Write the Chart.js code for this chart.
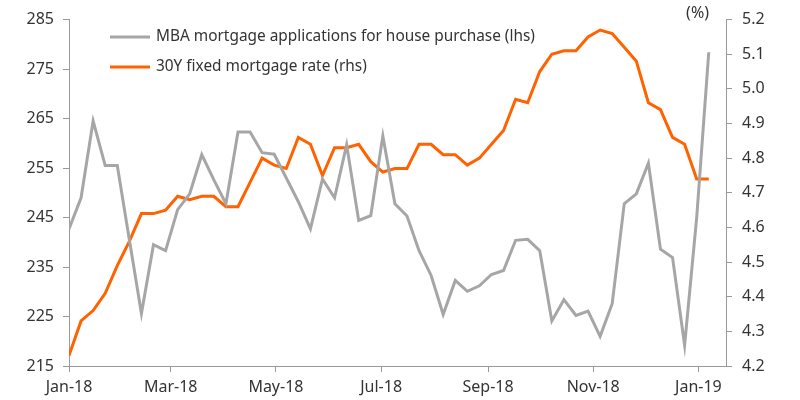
<!DOCTYPE html>
<html>
<head>
<meta charset="utf-8">
<script src="https://cdn.jsdelivr.net/npm/chart.js@4.4.1/dist/chart.umd.min.js"></script>
<style>
  html, body { margin: 0; padding: 0; background: #fff; }
  #wrap { width: 800px; height: 400px; position: relative; }
</style>
</head>
<body>
<div id="wrap"><canvas id="c"></canvas></div>
<script>
// ---- Data ----
const weekDates = [
  '2018-01-01','2018-01-08','2018-01-15','2018-01-22','2018-01-29',
  '2018-02-05','2018-02-12','2018-02-19','2018-02-26',
  '2018-03-05','2018-03-12','2018-03-19','2018-03-26',
  '2018-04-02','2018-04-09','2018-04-16','2018-04-23','2018-04-30',
  '2018-05-07','2018-05-14','2018-05-21','2018-05-28',
  '2018-06-04','2018-06-11','2018-06-18','2018-06-25',
  '2018-07-02','2018-07-09','2018-07-16','2018-07-23','2018-07-30',
  '2018-08-06','2018-08-13','2018-08-20','2018-08-27',
  '2018-09-03','2018-09-10','2018-09-17','2018-09-24',
  '2018-10-01','2018-10-08','2018-10-15','2018-10-22','2018-10-29',
  '2018-11-05','2018-11-12','2018-11-19','2018-11-26',
  '2018-12-03','2018-12-10','2018-12-17','2018-12-24','2018-12-31',
  '2019-01-07'
];
const mbaPurchase = [
  242.7,249.0,264.5,255.5,255.5,240.5,225.6,239.5,238.3,246.6,
  249.8,257.7,252.6,247.8,262.3,262.3,258.1,257.8,253.0,248.2,
  242.7,252.8,249.0,259.7,244.4,245.4,261.5,247.8,245.3,238.3,
  233.3,225.4,232.3,230.1,231.2,233.5,234.3,240.4,240.6,238.3,
  224.1,228.4,225.2,226.1,221.0,227.6,247.8,249.8,256.0,238.6,
  236.9,219.2,245.0,278.4
];
const rate30y = [
  4.23,4.33,4.36,4.41,4.49,4.56,4.64,4.64,4.65,4.69,
  4.68,4.69,4.69,4.66,4.66,4.73,4.80,4.78,4.77,4.86,
  4.84,4.75,4.83,4.83,4.84,4.79,4.76,4.77,4.77,4.84,
  4.84,4.81,4.81,4.78,4.80,4.84,4.88,4.97,4.96,5.05,
  5.10,5.11,5.11,5.15,5.17,5.16,5.12,5.08,4.96,4.94,
  4.86,4.84,4.74,4.74
];
const seriesLabels = ['MBA mortgage applications for house purchase (lhs)', '30Y fixed mortgage rate (rhs)'];
const tickDates = ['2018-01-01','2018-03-01','2018-05-01','2018-07-01','2018-09-01','2018-11-01','2019-01-01'];
const tickLabels = ['Jan-18','Mar-18','May-18','Jul-18','Sep-18','Nov-18','Jan-19'];
const axisStart = '2018-01-01';
const axisEnd = '2019-01-17';
const rhsUnit = '(%)';

// ---- Helpers ----
function dayIndex(s) {
  const [y, m, d] = s.split('-').map(Number);
  const [y0, m0, d0] = axisStart.split('-').map(Number);
  return (Date.UTC(y, m - 1, d) - Date.UTC(y0, m0 - 1, d0)) / 86400000;
}
const xs = weekDates.map(dayIndex);
const tickDays = tickDates.map(dayIndex);

const FONT = "'Noto Sans', 'DejaVu Sans', sans-serif";
const TEXT = '#333333';
const AXIS = '#9a9a9a';
const GREY = '#a6a6a6';
const ORANGE = '#ff6200';

const overlay = {
  id: 'overlay',
  afterDraw(chart) {
    const ctx = chart.ctx;
    ctx.save();
    ctx.font = '15.4px ' + FONT;
    ctx.fillStyle = TEXT;
    ctx.textBaseline = 'middle';
    ctx.textAlign = 'left';
    const rows = [37, 67];
    chart.data.datasets.forEach((ds, i) => {
      ctx.strokeStyle = ds.borderColor;
      ctx.lineWidth = 3;
      ctx.beginPath();
      ctx.moveTo(110, rows[i]);
      ctx.lineTo(150, rows[i]);
      ctx.stroke();
      ctx.fillText(ds.label, 156, rows[i]);
    });
    ctx.font = '16px ' + FONT;
    ctx.textAlign = 'right';
    ctx.fillText(rhsUnit, 709, 13);
    ctx.restore();
  }
};

new Chart(document.getElementById('c'), {
  type: 'line',
  data: {
    datasets: [
      {
        label: seriesLabels[0],
        data: xs.map((x, i) => ({ x, y: mbaPurchase[i] })),
        borderColor: GREY,
        borderWidth: 3,
        pointRadius: 0,
        tension: 0,
        yAxisID: 'y'
      },
      {
        label: seriesLabels[1],
        data: xs.map((x, i) => ({ x, y: rate30y[i] })),
        borderColor: ORANGE,
        borderWidth: 3,
        pointRadius: 0,
        tension: 0,
        yAxisID: 'y1'
      }
    ]
  },
  options: {
    responsive: true,
    maintainAspectRatio: false,
    animation: false,
    layout: { padding: { top: 17, left: 0, right: 0, bottom: 0 } },
    plugins: { legend: { display: false }, tooltip: { enabled: false } },
    scales: {
      x: {
        type: 'linear',
        min: 0,
        max: dayIndex(axisEnd),
        afterBuildTicks: s => { s.ticks = tickDays.map(v => ({ value: v })); },
        afterFit: s => { s.height = 34; },
        ticks: {
          autoSkip: false,
          maxRotation: 0,
          padding: 6,
          color: TEXT,
          font: { family: FONT, size: 16 },
          callback: (v, i) => tickLabels[i]
        },
        grid: { drawOnChartArea: false, drawTicks: true, tickLength: 6, color: AXIS, lineWidth: 1 },
        border: { color: AXIS, width: 1 }
      },
      y: {
        position: 'left',
        min: 215,
        max: 285,
        afterFit: s => { s.width = 69; },
        ticks: {
          stepSize: 10,
          padding: 9,
          color: TEXT,
          font: { family: FONT, size: 16 }
        },
        grid: { drawOnChartArea: false, drawTicks: true, tickLength: 6, color: AXIS },
        border: { color: AXIS, width: 1 }
      },
      y1: {
        position: 'right',
        min: 4.2,
        max: 5.2,
        afterFit: s => { s.width = 74; },
        ticks: {
          stepSize: 0.1,
          padding: 10,
          color: TEXT,
          font: { family: FONT, size: 16 },
          callback: v => Number(v).toFixed(1)
        },
        grid: { drawOnChartArea: false, drawTicks: true, tickLength: 6, color: AXIS },
        border: { color: AXIS, width: 1 }
      }
    }
  },
  plugins: [overlay]
});
</script>
</body>
</html>
